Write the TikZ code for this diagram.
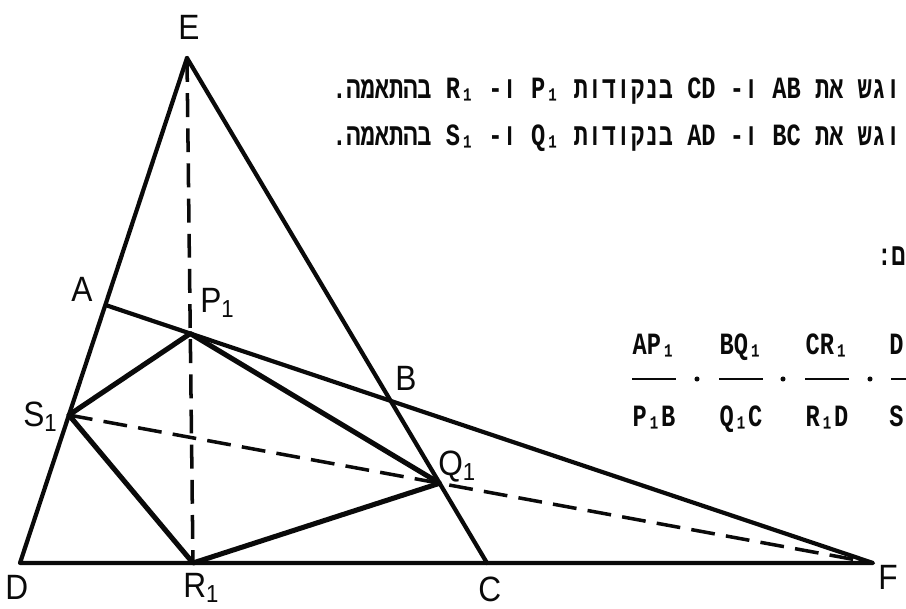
\documentclass[tikz,border=0pt]{standalone}
\usepackage{fontspec}
\setmainfont{Liberation Sans}[FakeStretch=0.9]
\newfontfamily\hebmono[Script=Hebrew,FakeStretch=0.765]{Liberation Mono}
\TeXXeTstate=1
\usetikzlibrary{calc}
\definecolor{cqInk}{HTML}{0A0A0A}
\tikzset{
  cq canvas/.style={fill=white},
  cq side/.style={
    draw=cqInk,
    line width=3pt,
    line join=round,
    line cap=round
  },
  cq quad/.style={
    draw=cqInk,
    line width=3.6pt,
    line join=round
  },
  cq aux/.style={
    draw=cqInk,
    line width=2.5pt,
    dash pattern=on 17pt off 8pt
  },
  cq bar/.style={draw=cqInk, line width=1.6pt},
  cq dot/.style={circle, fill=cqInk, inner sep=0pt, minimum size=3.6pt},
  cq label/.style={font=\fontsize{25}{28}\selectfont, text=cqInk, inner sep=0pt, anchor=base west},
  cq text/.style={font=\hebmono\bfseries\fontsize{22}{26}\selectfont, text=cqInk, inner sep=0pt,
    execute at begin node={\TeXXeTstate=1 }}
}

\begin{document}
\begin{tikzpicture}[x=0.025cm,y=-0.025cm]
  \useasboundingbox[cq canvas] (0,0) rectangle (906,608);
  \coordinate (E) at (187,58);
  \coordinate (D) at (20,563);
  \coordinate (C) at (487,563);
  \coordinate (F) at (873,563);
  \coordinate (R1) at (193,563);
  \coordinate (A) at ($(E)!.489!(D)$);
  \coordinate (S1) at ($(E)!.707!(D)$);
  \coordinate (B) at (intersection of A--F and E--C);
  \coordinate (P1) at (intersection of A--F and E--R1);
  \coordinate (Q1) at (intersection of S1--F and E--C);

  \draw[cq side] (E) -- (D) -- (F) -- (A);
  \draw[cq side] (E) -- (C);
  \draw[cq aux] (E) -- (R1);
  \draw[cq aux] (S1) -- (F);
  \draw[cq quad] (P1) -- (Q1) -- (R1) -- (S1) -- cycle;

  \node[cq label] (lE) at (178,39) {E};
  \node[cq label] (lA) at (71,301) {A};
  \node[cq label] (lP1) at (200,312) {P\textsubscript{1}};
  \node[cq label] (lB) at (395,390) {B};
  \node[cq label] (lS1) at (23,426) {S\textsubscript{1}};
  \node[cq label] (lQ1) at (438,475) {Q\textsubscript{1}};
  \node[cq label] (lD) at (5,599) {D};
  \node[cq label] (lR1) at (183,597) {R\textsubscript{1}};
  \node[cq label] (lC) at (478,601) {C};
  \node[cq label] (lF) at (878,589) {F};

  \node[cq text, anchor=base west] (line1) at (332,98.5)
    {\beginR וגש את AB ו{}- CD בנקודות P₁ ו{}- R₁ בהתאמה{}.\endR};
  \node[cq text, anchor=base west] (line2) at (332,145.5)
    {\beginR וגש את BC ו{}- AD בנקודות Q₁ ו{}- S₁ בהתאמה{}.\endR};
  \node[cq text, anchor=base west] (line3) at (877,265) {\beginR ם{}:\endR};

  \foreach \xc/\num/\den [count=\i] in {654/AP₁/P₁B, 741/BQ₁/Q₁C, 827/CR₁/R₁D} {
    \node[cq text, anchor=base] (num\i) at (\xc,354) {\num};
    \node[cq text, anchor=base] (den\i) at (\xc,426) {\den};
    \draw[cq bar] (\xc-22,379) -- (\xc+22,379);
  }
  \node[cq text, anchor=base west] (num4) at (889,354) {D};
  \node[cq text, anchor=base west] (den4) at (889,426) {S};
  \draw[cq bar] (891,379) -- (910,379);
  \foreach \xd [count=\i] in {697,783,870}
    \node[cq dot] (dot\i) at (\xd,379) {};
\end{tikzpicture}
\end{document}
